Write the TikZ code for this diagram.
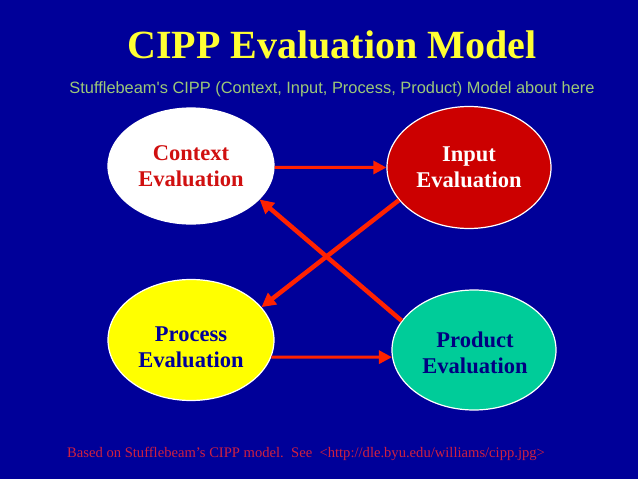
\documentclass[tikz,border=0pt]{standalone}
\usepackage{fontspec}
\setmainfont{Liberation Serif}
\newfontfamily\arialf{Liberation Sans}
\usetikzlibrary{shapes.geometric,arrows.meta}
\definecolor{bgnavy}{HTML}{000099}
\definecolor{titleyel}{HTML}{FFFF33}
\definecolor{subgreen}{HTML}{9CC878}
\definecolor{footred}{HTML}{D02040}
\definecolor{arrred}{HTML}{FF2200}
\definecolor{inred}{HTML}{CC0000}
\definecolor{ctxtext}{HTML}{D01010}
\definecolor{procyel}{HTML}{FFFF00}
\definecolor{prodteal}{HTML}{00CC99}
\definecolor{prodtext}{HTML}{000080}
\tikzset{
  evalnode/.style={ellipse, draw=white, line width=1.2pt, inner sep=0pt,
    minimum width=166pt, minimum height=121pt, align=center,
    font=\fontsize{22.5}{25.6}\selectfont\bfseries},
  evaltext/.style={align=center, inner sep=0pt, font=\fontsize{22.5}{25.6}\selectfont\bfseries},
  flowarrow/.style={draw=arrred, line width=3pt, -{Triangle[length=13pt,width=13pt]}},
  crossarrow/.style={draw=arrred, line width=4.5pt, -{Triangle[length=14pt,width=14pt]}}
}
\begin{document}
\begin{tikzpicture}[x=1pt,y=-1pt]
\fill[bgnavy] (0,0) rectangle (638,479);
\useasboundingbox (0,0) rectangle (638,479);
\node[anchor=base, text=titleyel, font=\fontsize{40}{44}\selectfont\bfseries, inner sep=0pt] (title) at (332,58) {CIPP Evaluation Model};
\node[anchor=base, text=subgreen, font=\arialf\fontsize{16.4}{19}\selectfont, inner sep=0pt] (sub) at (332,93) {Stufflebeam's CIPP (Context, Input, Process, Product) Model about here};
\node[evalnode, fill=white, text=ctxtext, minimum height=116pt] (ctx) at (191,166) {Context\\Evaluation};
\node[evalnode, fill=inred, text=white, minimum width=164pt, minimum height=122pt] (inp) at (469,167.5) {Input\\Evaluation};
\node[evalnode, fill=procyel] (prc) at (191,340) {};
\node[evaltext, text=bgnavy] (prctext) at (191,347) {Process\\Evaluation};
\node[evalnode, fill=prodteal, text=prodtext, minimum width=164pt, minimum height=120pt] (prd) at (474,350) {};
\node[evaltext, text=prodtext] (prdtext) at (475,353) {Product\\Evaluation};
\draw[flowarrow] (ctx.-1) -- (inp.west);
\draw[flowarrow] (prc.-12.8) -- (prd.185.6);
\draw[crossarrow] (inp.205.3) -- (prc.25.2);
\draw[crossarrow] (prd.158.7) -- (ctx.-26.9);
\node[anchor=base west, text=footred, font=\fontsize{14.6}{17}\selectfont, inner sep=0pt] (foot) at (67,457) {Based on Stufflebeam’s CIPP model.\ \ See \ <http://dle.byu.edu/williams/cipp.jpg>};
\end{tikzpicture}
\end{document}
